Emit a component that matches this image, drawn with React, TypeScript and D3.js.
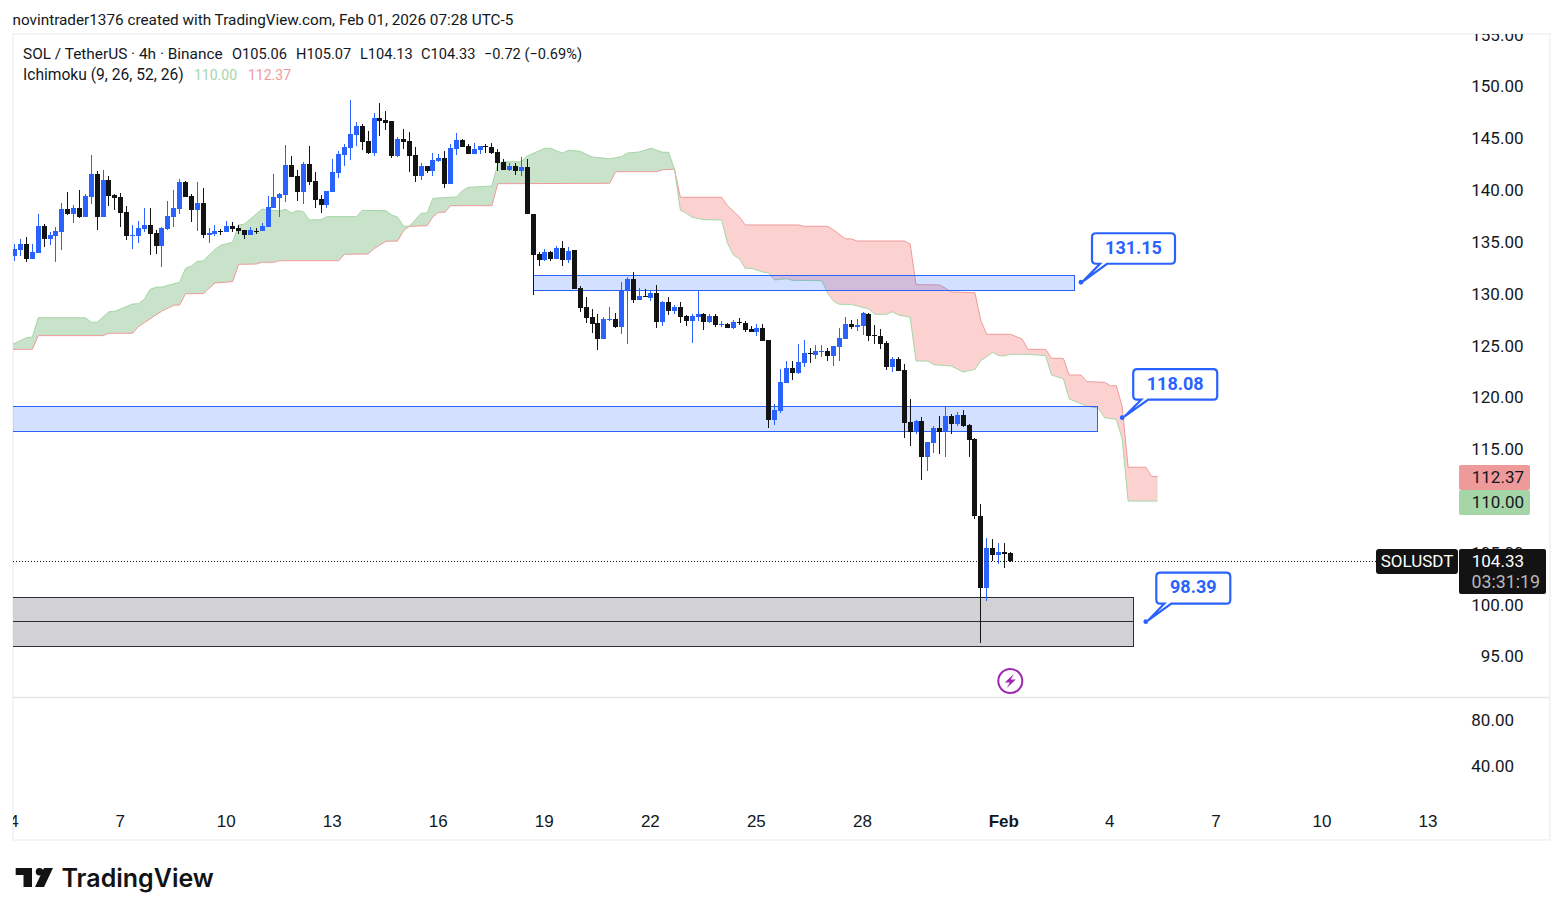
import * as d3 from "d3";
import { useEffect, useRef } from "react";

// open, high, low, close per 4h bar, bar 0 = Jan 4 00:00
const candles: number[][] = [
	[133.64, 134.8, 133.16, 134.29], [134.22, 135.28, 133.68, 134.8], [134.8, 135.48, 133.1, 133.39], [133.39, 134.8, 133.39, 134.03],
	[133.97, 137.7, 133.97, 136.54], [136.54, 136.7, 134.54, 135.32], [135.32, 135.96, 134.74, 135.67], [135.61, 136.44, 133.1, 136.06],
	[135.99, 138.76, 134.22, 138.18], [138.18, 139.82, 137.6, 137.7], [137.7, 138.56, 136.86, 138.27], [138.27, 140.01, 137.34, 137.44],
	[137.44, 139.63, 137.41, 139.43], [139.37, 143.39, 138.69, 141.56], [141.56, 141.85, 136.19, 137.44], [137.44, 141.94, 137.44, 140.98],
	[140.98, 141.36, 138.47, 139.43], [139.53, 139.63, 138.08, 139.27], [139.34, 139.72, 136.47, 137.83], [137.89, 138.47, 135.22, 135.61],
	[135.61, 136.63, 134.35, 135.67], [135.61, 137.02, 134.93, 136.35], [136.25, 138.27, 135.96, 136.63], [136.63, 138.27, 133.77, 135.8],
	[135.86, 136.15, 133.87, 134.64], [134.64, 136.44, 132.62, 136.35], [136.28, 138.95, 136.19, 137.5], [137.44, 140.01, 136.47, 138.27],
	[138.21, 141.07, 137.73, 140.78], [140.78, 140.88, 139.37, 139.37], [139.43, 139.63, 136.96, 138.11], [138.11, 140.78, 136.09, 138.76],
	[138.76, 140.2, 135.41, 135.7], [135.7, 136.35, 134.93, 135.86], [135.8, 136.63, 135.61, 136.06], [136.02, 136.25, 135.7, 135.96],
	[135.96, 137.02, 135.96, 136.54], [136.54, 136.92, 135.96, 136.28], [136.35, 136.63, 135.8, 136.06], [136.15, 136.15, 135.32, 135.7],
	[135.7, 136.44, 135.7, 136.15], [136.09, 136.35, 135.8, 136.02], [136.09, 136.83, 136.06, 136.54], [136.47, 139.43, 136.47, 138.37],
	[138.27, 141.56, 138.27, 139.34], [139.27, 139.72, 137.44, 139.63], [139.53, 144.35, 138.85, 142.42], [142.42, 143.29, 141.27, 141.27],
	[141.36, 141.94, 138.95, 139.82], [139.82, 142.71, 138.66, 142.52], [142.52, 144.26, 140.49, 140.78], [140.88, 141.75, 138.27, 139.05],
	[139.14, 139.53, 137.79, 138.56], [138.56, 139.92, 138.27, 139.92], [139.82, 143.0, 139.82, 141.75], [141.65, 143.77, 141.17, 143.49],
	[143.39, 144.45, 142.33, 144.16], [144.06, 148.7, 142.91, 145.41], [145.32, 146.57, 144.26, 146.19], [146.19, 146.38, 143.87, 144.64],
	[144.74, 145.7, 143.49, 143.58], [143.58, 147.44, 143.29, 146.96], [146.96, 148.41, 145.22, 146.67], [146.77, 147.63, 145.8, 146.48],
	[146.67, 146.67, 143.1, 143.29], [143.29, 145.13, 143.2, 144.93], [144.93, 145.9, 143.97, 144.64], [144.74, 145.61, 141.75, 143.29],
	[143.39, 144.16, 140.78, 141.36], [141.36, 142.62, 140.98, 142.33], [142.33, 142.33, 141.65, 141.85], [141.85, 143.58, 141.36, 142.91],
	[142.78, 143.49, 142.71, 143.1], [143.1, 143.77, 140.2, 140.59], [140.59, 144.45, 140.59, 144.06], [143.97, 145.51, 143.39, 144.84],
	[144.84, 144.93, 144.16, 144.16], [144.26, 144.45, 143.49, 143.49], [143.49, 144.55, 143.49, 143.97], [143.87, 144.26, 143.49, 144.26],
	[144.26, 144.45, 143.58, 144.16], [144.16, 144.55, 143.49, 143.58], [143.68, 143.97, 141.85, 142.62], [142.71, 143.0, 141.94, 141.94],
	[141.94, 142.62, 141.85, 142.33], [142.33, 142.62, 141.46, 141.85], [141.85, 143.2, 141.36, 142.23], [142.23, 143.0, 137.7, 137.7],
	[137.7, 137.7, 129.88, 133.77], [133.83, 134.03, 132.68, 133.26], [133.26, 134.32, 133.16, 134.03], [134.03, 134.12, 133.16, 133.35],
	[133.35, 134.61, 133.35, 134.41], [134.41, 135.09, 132.68, 133.26], [133.26, 134.51, 132.97, 134.12], [134.22, 134.22, 130.46, 130.46],
	[130.55, 130.75, 128.24, 128.63], [128.72, 129.69, 127.18, 127.66], [127.76, 128.53, 126.21, 127.08], [127.18, 128.05, 124.57, 125.63],
	[125.63, 127.76, 125.63, 127.56], [127.47, 128.72, 127.37, 127.56], [127.56, 128.14, 126.69, 126.79], [126.79, 131.13, 126.12, 130.36],
	[130.23, 131.62, 125.15, 131.42], [131.42, 132.1, 129.11, 129.4], [129.4, 130.55, 129.4, 129.78], [129.78, 130.46, 129.69, 129.69],
	[129.59, 130.26, 129.3, 130.07], [130.07, 130.84, 126.69, 127.27], [127.27, 129.3, 126.89, 129.2], [129.2, 129.69, 127.95, 128.33],
	[128.33, 128.92, 128.05, 128.72], [128.72, 129.2, 127.18, 127.76], [127.85, 127.95, 126.89, 127.37], [127.37, 128.05, 125.25, 127.85],
	[127.76, 130.23, 127.37, 128.05], [128.05, 128.14, 126.5, 127.27], [127.27, 128.05, 127.18, 127.85], [127.85, 128.05, 126.79, 126.98],
	[126.98, 127.37, 126.79, 127.08], [127.08, 127.18, 126.69, 126.69], [126.69, 127.47, 126.6, 127.27], [127.27, 127.66, 126.98, 127.18],
	[127.18, 127.37, 126.31, 126.5], [126.6, 126.89, 126.31, 126.31], [126.31, 127.08, 125.92, 126.69], [126.69, 127.08, 125.44, 125.44],
	[125.54, 125.54, 117.05, 117.82], [117.82, 119.37, 117.34, 118.79], [118.69, 122.74, 118.5, 121.49], [121.39, 123.51, 121.39, 122.84],
	[122.84, 123.51, 121.68, 122.36], [122.36, 125.15, 122.26, 123.42], [123.32, 125.54, 122.94, 124.29], [124.29, 124.77, 123.32, 124.22],
	[124.09, 125.06, 123.71, 124.48], [124.38, 125.06, 123.9, 124.48], [124.48, 124.77, 123.51, 124.0], [124.0, 124.96, 123.03, 124.96],
	[124.87, 126.7, 123.51, 125.73], [125.64, 127.76, 125.64, 127.08], [127.08, 127.47, 126.6, 126.79], [126.79, 127.57, 126.41, 126.99],
	[126.89, 128.24, 126.02, 128.15], [128.05, 128.15, 125.44, 125.93], [126.02, 126.99, 125.15, 125.96], [125.93, 126.6, 124.67, 125.15],
	[125.25, 125.44, 122.65, 122.94], [122.94, 123.9, 122.45, 123.71], [123.71, 123.9, 122.55, 122.55], [122.65, 123.23, 116.09, 117.53],
	[117.63, 119.85, 115.31, 116.67], [116.67, 117.82, 116.47, 117.73], [117.73, 118.11, 112.03, 114.25], [114.25, 115.7, 112.9, 115.7],
	[115.6, 117.24, 114.64, 117.05], [117.05, 118.21, 114.54, 116.67], [116.67, 119.08, 114.25, 118.21], [118.21, 118.4, 116.47, 117.44],
	[117.44, 118.59, 117.24, 118.31], [118.31, 118.79, 117.14, 117.24], [117.34, 117.44, 114.25, 115.89], [115.99, 116.09, 108.27, 108.58],
	[108.56, 109.72, 96.34, 101.61], [101.61, 106.44, 100.36, 105.47], [105.47, 106.34, 104.22, 104.8], [104.8, 105.96, 103.93, 105.09],
	[105.09, 105.96, 103.54, 104.9], [105.0, 105.07, 104.1, 104.19],
];

// Ichimoku cloud outlines as [bar, price]
const greenSpanA: number[][] = [
	[-1, 125.06], [0, 125.22], [2, 125.76], [3, 125.83], [4, 127.69], [12, 127.69], [13, 127.25], [14, 127.25], [16, 128.27], [17, 128.31],
	[20, 129.01], [21, 129.04], [22, 129.47], [23, 130.43], [24, 130.63], [25, 130.65], [28, 131.11], [29, 132.46], [30, 132.68], [31, 133.13],
	[32, 133.16], [34, 134.29], [35, 134.68], [37, 134.97], [38, 136.64], [39, 136.73], [42, 138.18], [43, 138.08], [45, 137.99], [46, 138.15],
	[47, 137.79], [48, 138.02], [49, 137.92], [50, 137.12], [52, 137.15], [53, 137.44], [58, 137.44], [59, 138.05], [63, 138.02], [64, 137.6],
	[65, 137.41], [66, 136.51], [67, 136.51], [69, 137.77], [70, 137.79], [71, 139.21], [75, 139.34], [76, 139.95], [77, 140.27], [81, 140.4],
	[82, 142.52], [83, 142.74], [86, 142.74], [87, 143.29], [90, 144.04], [91, 144.04], [92, 143.78], [93, 143.58], [94, 143.84], [96, 143.75],
	[98, 143.2], [101, 143.03], [103, 143.23], [104, 143.58], [106, 143.68], [108, 144.04], [110, 143.65], [111, 143.65], [112, 142.01],
];
const greenSpanB: number[][] = [
	[-1, 124.64], [3, 124.64], [4, 125.96], [15, 125.96], [16, 126.19], [20, 126.19], [21, 126.82], [22, 127.21], [25, 128.34], [27, 128.89],
	[28, 128.92], [29, 130.01], [32, 130.01], [34, 131.04], [37, 131.17], [38, 132.84], [41, 132.87], [42, 133.04], [44, 133.04], [45, 133.19],
	[55, 133.19], [56, 133.81], [60, 133.84], [61, 134.35], [63, 135.06], [65, 135.09], [66, 136.09], [67, 136.51], [70, 136.57], [71, 137.44],
	[72, 137.86], [73, 137.86], [74, 138.5], [81, 138.5], [82, 140.62], [101, 140.66], [102, 141.78], [109, 141.78], [110, 141.97], [112, 142.01],
];
const redSpanB: number[][] = [
	[112, 142.01], [113, 139.31], [120, 139.31], [121, 138.5], [123, 137.44], [124, 136.64], [133, 136.64], [134, 136.51], [138, 136.51], [139, 136.15],
	[141, 135.31], [142, 135.29], [143, 135.09], [151, 135.09], [152, 134.8], [153, 130.88], [157, 130.85], [158, 130.53], [159, 130.17], [163, 130.1],
	[164, 127.4], [165, 126.09], [169, 126.09], [171, 125.64], [172, 124.64], [175, 124.64], [176, 123.77], [178, 123.77], [179, 122.16], [181, 122.16],
	[182, 121.52], [185, 121.46], [186, 121.13], [187, 121.13], [188, 119.1], [189, 113.26], [192, 113.26], [193, 112.37], [194, 112.37],
];
const redSpanA: number[][] = [
	[112, 142.01], [113, 138.06], [114, 137.77], [115, 137.38], [117, 137.15], [120, 137.12], [121, 134.87], [122, 133.74], [123, 133.38], [124, 132.46],
	[125, 132.46], [127, 132.1], [128, 132.0], [129, 131.33], [131, 131.46], [132, 131.3], [137, 131.26], [138, 130.05], [139, 129.27], [140, 128.98],
	[142, 128.98], [145, 128.53], [146, 128.02], [148, 128.02], [149, 128.27], [150, 127.95], [152, 127.73], [153, 123.51], [155, 123.51], [156, 123.16],
	[159, 123.03], [161, 122.45], [163, 122.71], [164, 123.55], [165, 123.93], [166, 124.35], [167, 124.03], [168, 124.0], [169, 124.16], [172, 124.16],
	[175, 124.03], [176, 122.16], [178, 121.81], [179, 119.85], [182, 119.17], [184, 118.95], [185, 118.04], [187, 117.89], [188, 115.96], [189, 110.0], [194, 110.0],
];

// [start bar, end bar, top price, bottom price]
const blueZones: number[][] = [
	[88, 180, 131.72, 130.22],
	[-1, 184, 119.17, 116.71],
];
const grayZone = [-1, 190, 100.69, 96.02];
const grayZoneMid = 98.38;

const calloutLabels = ["131.15", "118.08", "98.39"];
const calloutBars = [181, 188, 192];
const calloutPrices = [131.11, 118.04, 98.36];

const priceTicks = [155, 150, 145, 140, 135, 130, 125, 120, 115, 105, 100, 95];
const lowerTicks = [80, 40];
const timeTickBars = [0, 18, 36, 54, 72, 90, 108, 126, 144, 168, 186, 204, 222, 240];
const timeTickLabels = ["4", "7", "10", "13", "16", "19", "22", "25", "28", "Feb", "4", "7", "10", "13"];

const BLUE = "#2962ff";
const BLACK = "#131313";
const TEXT = "#131722";
const FONT = "Roboto, sans-serif";

export default function App() {
	const svgRef = useRef<SVGSVGElement>(null);

	useEffect(() => {
		const svg = d3.select(svgRef.current);
		if (!svg.node()) return;
		svg.selectAll("*").remove();

		const x = d3.scaleLinear().domain([0, 169]).range([14.7, 1010.3]);
		const y = d3.scaleLinear().domain([150, 95]).range([86.5, 656.5]);
		const yLower = d3.scaleLog().domain([80, 40]).range([720, 766]);

		const defs = svg.append("defs");
		defs.append("clipPath").attr("id", "pane").append("rect").attr("x", 13).attr("y", 34).attr("width", 1445).attr("height", 663);
		defs.append("clipPath").attr("id", "axis").append("rect").attr("x", 1458).attr("y", 34).attr("width", 92).attr("height", 663);
		defs.append("clipPath").attr("id", "time").append("rect").attr("x", 13).attr("y", 800).attr("width", 1537).attr("height", 40);

		const txt = (
			parent: d3.Selection<any, unknown, null, undefined>,
			px: number,
			py: number,
			s: string,
			size: number,
			fill: string,
			anchor = "start",
			family = FONT,
			weight = "400",
		) =>
			parent
				.append("text")
				.attr("x", px)
				.attr("y", py)
				.attr("dy", "0.35em")
				.attr("text-anchor", anchor)
				.attr("fill", fill)
				.style("font-family", family)
				.style("font-size", `${size}px`)
				.style("font-weight", weight)
				.text(s);

		// Frame
		svg.append("rect").attr("width", 1563).attr("height", 916).attr("fill", "#fff");
		const frame = svg.append("g").attr("stroke", "#f0f1f4").attr("fill", "none").attr("stroke-width", 1.5);
		frame.append("rect").attr("x", 13).attr("y", 34).attr("width", 1537).attr("height", 806);
		frame.append("line").attr("x1", 13).attr("x2", 1550).attr("y1", 697.5).attr("y2", 697.5).attr("stroke", "#e4e6ec");

		const pane = svg.append("g").attr("clip-path", "url(#pane)");

		// Cloud
		const cloudLine = d3
			.line<number[]>()
			.x((d) => x(d[0]))
			.y((d) => y(d[1]));
		const drawCloud = (top: number[][], bottom: number[][], fill: string, topStroke: string, bottomStroke: string) => {
			pane
				.append("path")
				.attr("d", cloudLine([...top, ...[...bottom].reverse()]))
				.attr("fill", fill);
			pane.append("path").attr("d", cloudLine(top)).attr("fill", "none").attr("stroke", topStroke).attr("stroke-width", 1);
			pane.append("path").attr("d", cloudLine(bottom)).attr("fill", "none").attr("stroke", bottomStroke).attr("stroke-width", 1);
		};
		drawCloud(greenSpanA, greenSpanB, "#c8e3c9", "#a5d6a7", "#ef9a9a");
		drawCloud(redSpanB, redSpanA, "#fcd2d0", "#ef9a9a", "#a5d6a7");

		// Zones, snapped to the pixel grid
		const zones = pane.append("g").attr("shape-rendering", "crispEdges");
		blueZones.forEach((z) => {
			zones
				.append("rect")
				.attr("x", Math.floor(x(z[0])) + 0.5)
				.attr("y", Math.floor(y(z[2])) + 0.5)
				.attr("width", Math.floor(x(z[1]) - x(z[0])))
				.attr("height", Math.floor(y(z[3]) - y(z[2])))
				.attr("fill", BLUE)
				.attr("fill-opacity", 0.2)
				.attr("stroke", BLUE)
				.attr("stroke-width", 1);
		});
		zones
			.append("rect")
			.attr("x", Math.floor(x(grayZone[0])) + 0.5)
			.attr("y", Math.floor(y(grayZone[2])) + 0.5)
			.attr("width", Math.floor(x(grayZone[1]) - x(grayZone[0])))
			.attr("height", Math.ceil(y(grayZone[3]) - y(grayZone[2])))
			.attr("fill", "#d2d2d5")
			.attr("stroke", "#2a2e39")
			.attr("stroke-width", 1);
		zones
			.append("line")
			.attr("x1", x(grayZone[0]))
			.attr("x2", x(grayZone[1]))
			.attr("y1", Math.round(y(grayZoneMid)) + 0.5)
			.attr("y2", Math.round(y(grayZoneMid)) + 0.5)
			.attr("stroke", "#2a2e39")
			.attr("stroke-width", 1);

		// Last price line
		const lastClose = candles[candles.length - 1][3];
		svg
			.append("line")
			.attr("x1", 13)
			.attr("x2", 1376)
			.attr("y1", Math.floor(y(lastClose)) + 0.5)
			.attr("y2", Math.floor(y(lastClose)) + 0.5)
			.attr("stroke", BLACK)
			.attr("stroke-width", 1)
			.attr("stroke-dasharray", "1 2");

		// Candles
		const bars = pane.append("g").attr("shape-rendering", "crispEdges");
		candles.forEach((c, i) => {
			const [o, h, l, cl] = c;
			const color = cl >= o ? BLUE : BLACK;
			const cx = Math.round(x(i) - 0.5);
			bars
				.append("rect")
				.attr("x", cx)
				.attr("y", y(h))
				.attr("width", 1)
				.attr("height", y(l) - y(h))
				.attr("fill", color);
			bars
				.append("rect")
				.attr("x", cx - 2)
				.attr("y", y(Math.max(o, cl)))
				.attr("width", 5)
				.attr("height", Math.max(1, Math.abs(y(o) - y(cl))))
				.attr("fill", color);
		});

		// Callouts
		const calloutBoxes = [
			{ dx: 11, dy: -49, w: 83, h: 30.5 },
			{ dx: 11, dy: -48.5, w: 84, h: 30.5 },
			{ dx: 10.5, dy: -49, w: 74, h: 31 },
		];
		calloutLabels.forEach((label, i) => {
			const px = x(calloutBars[i]);
			const py = y(calloutPrices[i]);
			const b = calloutBoxes[i];
			const bx = px + b.dx;
			const by = py + b.dy;
			const r = 4;
			const p = d3.path();
			p.moveTo(bx + r, by);
			p.lineTo(bx + b.w - r, by);
			p.quadraticCurveTo(bx + b.w, by, bx + b.w, by + r);
			p.lineTo(bx + b.w, by + b.h - r);
			p.quadraticCurveTo(bx + b.w, by + b.h, bx + b.w - r, by + b.h);
			p.lineTo(bx + 15, by + b.h);
			p.lineTo(px + 2, py - 1);
			p.lineTo(bx + 8, by + b.h);
			p.lineTo(bx + r, by + b.h);
			p.quadraticCurveTo(bx, by + b.h, bx, by + b.h - r);
			p.lineTo(bx, by + r);
			p.quadraticCurveTo(bx, by, bx + r, by);
			p.closePath();
			svg.append("path").attr("d", p.toString()).attr("fill", "#fff").attr("stroke", BLUE).attr("stroke-width", 2.2);
			svg.append("circle").attr("cx", px).attr("cy", py).attr("r", 2.4).attr("fill", BLUE);
			txt(svg, bx + b.w / 2, by + b.h / 2 - 1, label, 18, BLUE, "middle", FONT, "700");
		});

		// Lightning marker under the last bar
		const mark = svg.append("g").attr("transform", `translate(${x(169)},681)`);
		mark.append("circle").attr("r", 12).attr("fill", "#fff").attr("stroke", "#9c27b0").attr("stroke-width", 2);
		mark.append("path").attr("d", "M3.5,-7 L-5.5,1.5 L-0.5,1.5 L-3.5,7 L5.5,-1.5 L0.5,-1.5 Z").attr("fill", "#9c27b0");

		// Price axis
		const axis = svg.append("g").attr("clip-path", "url(#axis)");
		priceTicks.forEach((t) => {
			txt(axis, 1523.5, y(t), t.toFixed(2), 17, TEXT, "end");
		});
		lowerTicks.forEach((t) => {
			txt(svg, 1514, yLower(t), t.toFixed(2), 17, TEXT, "end");
		});

		// Ichimoku and last price tags
		svg.append("rect").attr("x", 1459).attr("y", 465).attr("width", 71).attr("height", 25).attr("rx", 2).attr("fill", "#ef9a9a");
		svg.append("rect").attr("x", 1459).attr("y", 490).attr("width", 71).attr("height", 25).attr("rx", 2).attr("fill", "#a5d6a7");
		txt(svg, 1524, 477.5, "112.37", 17, TEXT, "end");
		txt(svg, 1524, 502.5, "110.00", 17, TEXT, "end");
		svg.append("rect").attr("x", 1376).attr("y", 549).attr("width", 82).attr("height", 25).attr("rx", 3).attr("fill", BLACK);
		svg.append("rect").attr("x", 1459).attr("y", 549).attr("width", 87).attr("height", 45).attr("rx", 2).attr("fill", BLACK);
		txt(svg, 1417, 561.5, "SOLUSDT", 17, "#fff", "middle");
		txt(svg, 1524, 561.5, "104.33", 17, "#fff", "end");
		txt(svg, 1540, 581.5, "03:31:19", 17.8, "#b8b8b8", "end");

		// Time axis
		const timeAxis = svg.append("g").attr("clip-path", "url(#time)");
		timeTickLabels.forEach((label, i) => {
			txt(timeAxis, x(timeTickBars[i]) - 0.6, 821, label, 17, TEXT, "middle", "'Liberation Sans', Arial, sans-serif", label === "Feb" ? "700" : "400");
		});

		// Header and legend
		txt(svg, 12.5, 19.5, "novintrader1376 created with TradingView.com, Feb 01, 2026 07:28 UTC-5", 15.3, TEXT);
		txt(svg, 23, 54, "SOL / TetherUS · 4h · Binance", 15.4, TEXT);
		txt(svg, 232, 54, "O105.06", 14.6, TEXT);
		txt(svg, 296, 54, "H105.07", 14.6, TEXT);
		txt(svg, 360, 54, "L104.13", 14.6, TEXT);
		txt(svg, 421, 54, "C104.33", 14.6, TEXT);
		txt(svg, 484, 54, "−0.72 (−0.69%)", 14.6, TEXT);
		txt(svg, 23, 75, "Ichimoku (9, 26, 52, 26)", 15.6, TEXT);
		txt(svg, 194, 75, "110.00", 14, "#a5d6a7");
		txt(svg, 248, 75, "112.37", 14, "#ef9a9a");

		// Logo
		const logo = svg.append("g").attr("fill", BLACK);
		logo.append("path").attr("d", "M15.7,868 H32 V887 H23.5 V875 H15.7 Z");
		logo.append("circle").attr("cx", 39.5).attr("cy", 871.8).attr("r", 3.8);
		logo.append("path").attr("d", "M44,868 H53 L44,887 H35 Z");
		txt(logo as any, 61.5, 878, "TradingView", 25, BLACK, "start", "Inter, sans-serif", "600");
	}, []);

	return <svg ref={svgRef} width={1563} height={916} style={{ position: "absolute", left: 0, top: 0 }} />;
}
